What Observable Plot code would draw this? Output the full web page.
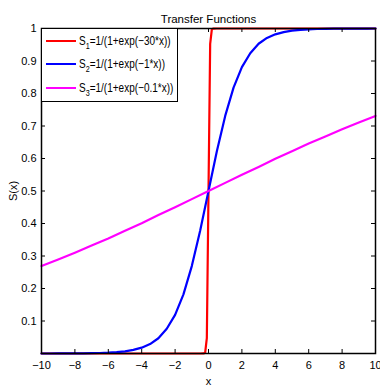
<!DOCTYPE html>
<html>
<head>
<meta charset="utf-8">
<script src="https://cdn.jsdelivr.net/npm/d3@7"></script>
<script src="https://cdn.jsdelivr.net/npm/@observablehq/plot@0.6"></script>
<style>
  html, body { margin: 0; padding: 0; background: #fff; }
  #wrap { position: relative; width: 380px; height: 386px; font-family: "Liberation Sans", Arial, sans-serif; }
  #legend { position: absolute; left: 41px; top: 28px; width: 137px; height: 74px; background: #fff; border: 1.5px solid #000; box-sizing: border-box; font-size: 12.5px; }
  .row { position: absolute; left: 0; height: 16px; display: flex; align-items: center; white-space: nowrap; }
  .sw { flex: 0 0 30px; width: 30px; height: 2px; margin-left: 4px; margin-right: 3px; }
  .txt { display: inline-block; transform: scaleX(0.8); transform-origin: left center; }
  sub { font-size: 9px; vertical-align: -4px; line-height: 0; }
</style>
</head>
<body>
<div id="wrap"></div>
<script>
const title = "Transfer Functions";
const xLabel = "x";
const yLabel = "S(x)";
const xTicks = [-10, -8, -6, -4, -2, 0, 2, 4, 6, 8, 10];
const yTicks = [0.1, 0.2, 0.3, 0.4, 0.5, 0.6, 0.7, 0.8, 0.9, 1];
const seriesNames = ["S1", "S2", "S3"];
const seriesColors = ["#ff0000", "#0000ff", "#ff00ff"];
const legendSubs = ["1", "2", "3"];
const legendTexts = ["=1/(1+exp(\u221230*x))", "=1/(1+exp(\u22121*x))", "=1/(1+exp(\u22120.1*x))"];

const s1X = [-10, -5, -1.5, -1, -0.5, -0.3, -0.2, -0.1, 0, 0.1, 0.2, 0.3, 0.5, 1, 5, 10];
const s1Y = [0, 0, 0, 0, 0, 0.0001, 0.0025, 0.047, 0.5, 0.953, 0.9975, 0.9999, 1, 1, 1, 1];

const s2X = [-10, -9.5, -9, -8.5, -8, -7.5, -7, -6.5, -6, -5.5, -5, -4.5, -4, -3.5, -3, -2.5, -2, -1.5, -1, -0.5, 0,
             0.5, 1, 1.5, 2, 2.5, 3, 3.5, 4, 4.5, 5, 5.5, 6, 6.5, 7, 7.5, 8, 8.5, 9, 9.5, 10];
const s2Y = [0.00005, 0.00007, 0.00012, 0.0002, 0.00034, 0.00055, 0.0009, 0.0015, 0.0025, 0.0041, 0.0067, 0.011, 0.018, 0.029, 0.047, 0.076, 0.119, 0.182, 0.269, 0.378, 0.5,
             0.622, 0.731, 0.818, 0.881, 0.924, 0.953, 0.971, 0.982, 0.989, 0.9933, 0.9959, 0.9975, 0.9985, 0.9991, 0.9994, 0.9997, 0.9998, 0.9999, 0.9999, 1];

const s3X = [-10, -9, -8, -7, -6, -5, -4, -3, -2, -1, 0, 1, 2, 3, 4, 5, 6, 7, 8, 9, 10];
const s3Y = [0.269, 0.289, 0.310, 0.332, 0.354, 0.378, 0.401, 0.426, 0.450, 0.475, 0.5, 0.525, 0.550, 0.574, 0.599, 0.622, 0.646, 0.668, 0.690, 0.711, 0.731];

const toRows = (xs, ys, s) => xs.map((x, i) => ({x, y: ys[i], s}));
const data = [
  ...toRows(s1X, s1Y, seriesNames[0]),
  ...toRows(s2X, s2Y, seriesNames[1]),
  ...toRows(s3X, s3Y, seriesNames[2])
];

const W = 380, H = 386, mL = 41, mR = 5, mT = 28, mB = 33;
const innerW = W - mL - mR, innerH = H - mT - mB, tk = 4;
const font = "'Liberation Sans', Arial, sans-serif";

const chart = Plot.plot({
  width: W, height: H,
  marginLeft: mL, marginRight: mR, marginTop: mT, marginBottom: mB,
  style: {fontFamily: font, fontSize: "11px", color: "#000", background: "#fff"},
  x: {domain: [-10, 10], ticks: xTicks, tickFormat: d => String(d).replace("-", "\u2212"), tickSize: 0, tickPadding: 8, label: xLabel, labelAnchor: "center", labelArrow: "none", labelOffset: 31},
  y: {domain: [0, 1], ticks: yTicks, tickFormat: d => String(d), tickSize: 0, tickPadding: 5, label: yLabel, labelAnchor: "center", labelArrow: "none", labelOffset: 32},
  color: {domain: seriesNames, range: seriesColors},
  marks: [
    Plot.line(data, {x: "x", y: "y", z: "s", stroke: "s", strokeWidth: 2.2}),
    Plot.tickX(xTicks, {x: d => d, insetTop: innerH - tk, stroke: "#000", strokeWidth: 1}),
    Plot.tickX(xTicks, {x: d => d, insetBottom: innerH - tk, stroke: "#000", strokeWidth: 1}),
    Plot.tickY(yTicks, {y: d => d, insetRight: innerW - tk, stroke: "#000", strokeWidth: 1}),
    Plot.tickY(yTicks, {y: d => d, insetLeft: innerW - tk, stroke: "#000", strokeWidth: 1}),
    Plot.frame({stroke: "#000", strokeWidth: 1.5}),
    Plot.text([title], {frameAnchor: "top", dy: -14, fontSize: 11.5, fill: "#000"})
  ]
});

const wrap = document.getElementById("wrap");
wrap.appendChild(chart);
const legend = document.createElement("div");
legend.id = "legend";
const rowTops = [4, 27, 51];
seriesNames.forEach((n, i) => {
  const row = document.createElement("div");
  row.className = "row";
  row.style.top = rowTops[i] + "px";
  row.innerHTML = `<span class="sw" style="background:${seriesColors[i]}"></span><span class="txt">S<sub>${legendSubs[i]}</sub>${legendTexts[i]}</span>`;
  legend.appendChild(row);
});
wrap.appendChild(legend);
</script>
</body>
</html>
